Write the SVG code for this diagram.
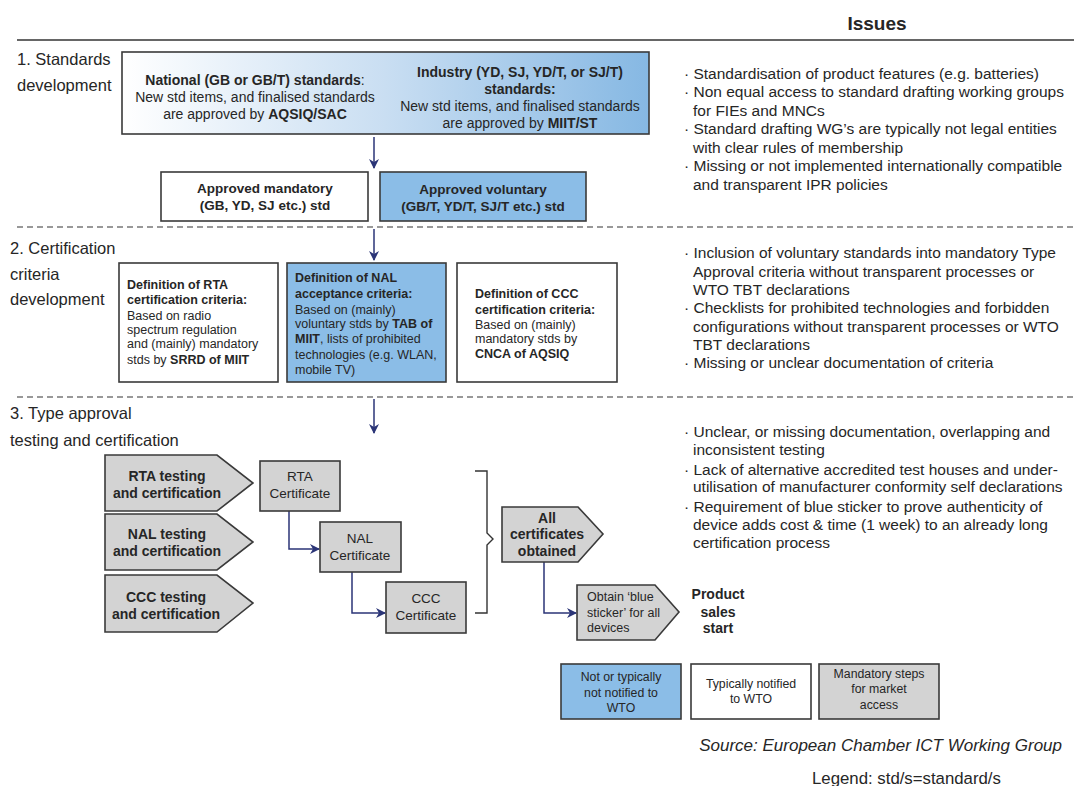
<svg xmlns="http://www.w3.org/2000/svg" width="1074" height="786" viewBox="0 0 1074 786">
<defs>
<linearGradient id="gradTop" x1="0" y1="0" x2="1" y2="0">
<stop offset="0" stop-color="#ffffff"/>
<stop offset="0.5" stop-color="#c9def2"/>
<stop offset="1" stop-color="#86b8e3"/>
</linearGradient>
<marker id="arr" viewBox="0 0 10 10" refX="9" refY="5" markerWidth="10" markerHeight="10" markerUnits="userSpaceOnUse" orient="auto">
<path d="M0,0 L10,5 L0,10 L3,5 Z" fill="#2b3577"/>
</marker>
<style>
text{font-family:"Liberation Sans",Arial,sans-serif;fill:#262626}
.b{font-weight:bold}
.sec{font-size:16.5px}
.iss{font-size:15.5px}
.box{stroke:#3a3a3a;stroke-width:1.6}
.blue{fill:#8bbde7}
.white{fill:#ffffff}
.gray{fill:#d3d3d3}
.dash{stroke:#333;stroke-width:1.2;stroke-dasharray:6 4;fill:none}
.conn{stroke:#2b3577;stroke-width:1.5;fill:none}
.c{text-anchor:middle}
</style>
</defs>

<!-- header -->
<text x="877" y="30" class="b c" style="font-size:19px">Issues</text>
<line x1="17" y1="40" x2="1074" y2="40" stroke="#333" stroke-width="1.4"/>
<line x1="17" y1="227" x2="1074" y2="227" class="dash"/>
<line x1="17" y1="397" x2="1074" y2="397" class="dash"/>

<!-- section labels -->
<text x="17" y="65" class="sec">1. Standards</text>
<text x="17" y="91" class="sec">development</text>
<text x="10" y="254" class="sec">2. Certification</text>
<text x="10" y="280" class="sec">criteria</text>
<text x="10" y="305" class="sec">development</text>
<text x="10" y="419" class="sec">3. Type approval</text>
<text x="10" y="446" class="sec">testing and certification</text>

<!-- issues -->
<g id="issues1" class="iss">
<text x="684" y="79">· Standardisation of product features (e.g. batteries)</text>
<text x="684" y="97">· Non equal access to standard drafting working groups</text>
<text x="693" y="116">for FIEs and MNCs</text>
<text x="684" y="134">· Standard drafting WG’s are typically not legal entities</text>
<text x="693" y="153">with clear rules of membership</text>
<text x="684" y="171">· Missing or not implemented internationally compatible</text>
<text x="693" y="190">and transparent IPR policies</text>
</g>
<g id="issues2" class="iss">
<text x="684" y="258">· Inclusion of voluntary standards into mandatory Type</text>
<text x="693" y="277">Approval criteria without transparent processes or</text>
<text x="693" y="295">WTO TBT declarations</text>
<text x="684" y="313">· Checklists for prohibited technologies and forbidden</text>
<text x="693" y="332">configurations without transparent processes or WTO</text>
<text x="693" y="350">TBT declarations</text>
<text x="684" y="368">· Missing or unclear documentation of criteria</text>
</g>
<g id="issues3" class="iss">
<text x="684" y="437">· Unclear, or missing documentation, overlapping and</text>
<text x="693" y="455">inconsistent testing</text>
<text x="684" y="475">· Lack of alternative accredited test houses and under-</text>
<text x="693" y="492">utilisation of manufacturer conformity self declarations</text>
<text x="684" y="512">· Requirement of blue sticker to prove authenticity of</text>
<text x="693" y="530">device adds cost &amp; time (1 week) to an already long</text>
<text x="693" y="548">certification process</text>
</g>

<!-- connectors -->
<g id="connectors">
<line x1="374" y1="137" x2="374" y2="168" class="conn" marker-end="url(#arr)"/>
<line x1="374" y1="229" x2="374" y2="260" class="conn" marker-end="url(#arr)"/>
<line x1="374" y1="399" x2="374" y2="433" class="conn" marker-end="url(#arr)"/>
<path d="M289,511 V549 H319" class="conn" marker-end="url(#arr)"/>
<path d="M352,572 V613 H385" class="conn" marker-end="url(#arr)"/>
<path d="M544,562 V613 H576" class="conn" marker-end="url(#arr)"/>
<path d="M475,471 H487 V533 L493,539 L487,545 V613 H475" fill="none" stroke="#333" stroke-width="1.4"/>
</g>

<!-- section 1 nodes -->
<g id="std-top">
<rect x="122" y="52" width="527" height="82" fill="url(#gradTop)" class="box"/>
<text x="255" y="85" class="c" style="font-size:14px"><tspan class="b">National (GB or GB/T) standards</tspan>:</text>
<text x="255" y="102" class="c" style="font-size:14px">New std items, and finalised standards</text>
<text x="255" y="119" class="c" style="font-size:14px">are approved by <tspan class="b">AQSIQ/SAC</tspan></text>
<text x="520" y="77" class="c b" style="font-size:14px">Industry (YD, SJ, YD/T, or SJ/T)</text>
<text x="520" y="94" class="c b" style="font-size:14px">standards:</text>
<text x="520" y="111" class="c" style="font-size:14px">New std items, and finalised standards</text>
<text x="520" y="128" class="c" style="font-size:14px">are approved by <tspan class="b">MIIT/ST</tspan></text>
</g>
<g id="approved-mandatory">
<rect x="161" y="172" width="207" height="49" class="box white"/>
<text x="265" y="193" class="c b" style="font-size:13.5px">Approved mandatory</text>
<text x="265" y="210" class="c b" style="font-size:13.5px">(GB, YD, SJ etc.) std</text>
</g>
<g id="approved-voluntary">
<rect x="380" y="172" width="206" height="49" class="box blue"/>
<text x="483" y="194" class="c b" style="font-size:13.5px">Approved voluntary</text>
<text x="483" y="211" class="c b" style="font-size:13.5px">(GB/T, YD/T, SJ/T etc.) std</text>
</g>

<!-- section 2 nodes -->
<g id="def-rta" style="font-size:12.5px">
<rect x="119" y="263" width="159" height="119" class="box white"/>
<text x="127" y="289" class="b">Definition of RTA</text>
<text x="127" y="304" class="b">certification criteria:</text>
<text x="127" y="320">Based on radio</text>
<text x="127" y="334">spectrum regulation</text>
<text x="127" y="348">and (mainly) mandatory</text>
<text x="127" y="364">stds by <tspan class="b">SRRD of MIIT</tspan></text>
</g>
<g id="def-nal" style="font-size:12.5px">
<rect x="287" y="263" width="159" height="119" class="box blue"/>
<text x="295" y="282" class="b">Definition of NAL</text>
<text x="295" y="298" class="b">acceptance criteria:</text>
<text x="295" y="314">Based on (mainly)</text>
<text x="295" y="328">voluntary stds by <tspan class="b">TAB of</tspan></text>
<text x="295" y="343"><tspan class="b">MIIT</tspan>, lists of prohibited</text>
<text x="295" y="359">technologies (e.g. WLAN,</text>
<text x="295" y="374">mobile TV)</text>
</g>
<g id="def-ccc" style="font-size:12.5px">
<rect x="457" y="263" width="160" height="119" class="box white"/>
<text x="475" y="298" class="b">Definition of CCC</text>
<text x="475" y="314" class="b">certification criteria:</text>
<text x="475" y="329">Based on (mainly)</text>
<text x="475" y="343">mandatory stds by</text>
<text x="475" y="358" class="b">CNCA of AQSIQ</text>
</g>

<!-- section 3 nodes -->
<g id="rta-testing">
<polygon points="105,455 217,455 253,483 217,511 105,511" class="box gray"/>
<text x="167" y="481" class="c b" style="font-size:14px">RTA testing</text>
<text x="167" y="498" class="c b" style="font-size:14px">and certification</text>
</g>
<g id="nal-testing">
<polygon points="105,514 217,514 253,542 217,570 105,570" class="box gray"/>
<text x="167" y="539" class="c b" style="font-size:14px">NAL testing</text>
<text x="167" y="556" class="c b" style="font-size:14px">and certification</text>
</g>
<g id="ccc-testing">
<polygon points="105,575 217,575 253,603 217,632 105,632" class="box gray"/>
<text x="166" y="602" class="c b" style="font-size:14px">CCC testing</text>
<text x="166" y="619" class="c b" style="font-size:14px">and certification</text>
</g>
<g id="rta-cert">
<rect x="260" y="461" width="80" height="50" class="box gray"/>
<text x="300" y="481" class="c" style="font-size:13.5px">RTA</text>
<text x="300" y="498" class="c" style="font-size:13.5px">Certificate</text>
</g>
<g id="nal-cert">
<rect x="320" y="522" width="81" height="50" class="box gray"/>
<text x="360" y="543" class="c" style="font-size:13.5px">NAL</text>
<text x="360" y="560" class="c" style="font-size:13.5px">Certificate</text>
</g>
<g id="ccc-cert">
<rect x="386" y="582" width="80" height="51" class="box gray"/>
<text x="426" y="603" class="c" style="font-size:13.5px">CCC</text>
<text x="426" y="620" class="c" style="font-size:13.5px">Certificate</text>
</g>
<g id="all-certs">
<polygon points="502,507 578,507 603,534 578,562 502,562" class="box gray"/>
<text x="547" y="523" class="c b" style="font-size:14px">All</text>
<text x="547" y="539" class="c b" style="font-size:14px">certificates</text>
<text x="547" y="556" class="c b" style="font-size:14px">obtained</text>
</g>
<g id="blue-sticker">
<polygon points="577,585 655,585 679,612 655,640 577,640" class="box gray"/>
<text x="587" y="601" style="font-size:12.5px">Obtain ‘blue</text>
<text x="587" y="617" style="font-size:12.5px">sticker’ for all</text>
<text x="587" y="632" style="font-size:12.5px">devices</text>
</g>
<g id="product-sales">
<text x="718" y="599" class="c b" style="font-size:14px">Product</text>
<text x="718" y="617" class="c b" style="font-size:14px">sales</text>
<text x="718" y="633" class="c b" style="font-size:14px">start</text>
</g>

<!-- legend -->
<g id="legend-blue">
<rect x="561" y="664" width="120" height="55" class="box blue"/>
<text x="621" y="681" class="c" style="font-size:12.3px">Not or typically</text>
<text x="621" y="697" class="c" style="font-size:12.3px">not notified to</text>
<text x="621" y="712" class="c" style="font-size:12.3px">WTO</text>
</g>
<g id="legend-white">
<rect x="691" y="664" width="120" height="55" class="box white"/>
<text x="751" y="688" class="c" style="font-size:12.3px">Typically notified</text>
<text x="751" y="703" class="c" style="font-size:12.3px">to WTO</text>
</g>
<g id="legend-gray">
<rect x="819" y="664" width="120" height="55" class="box gray"/>
<text x="879" y="678" class="c" style="font-size:12.3px">Mandatory steps</text>
<text x="879" y="693" class="c" style="font-size:12.3px">for market</text>
<text x="879" y="709" class="c" style="font-size:12.3px">access</text>
</g>
<text x="1062" y="751" style="font-size:17px;font-style:italic;text-anchor:end">Source: European Chamber ICT Working Group</text>
<text x="812" y="784" style="font-size:16.8px">Legend: std/s=standard/s</text>
</svg>
